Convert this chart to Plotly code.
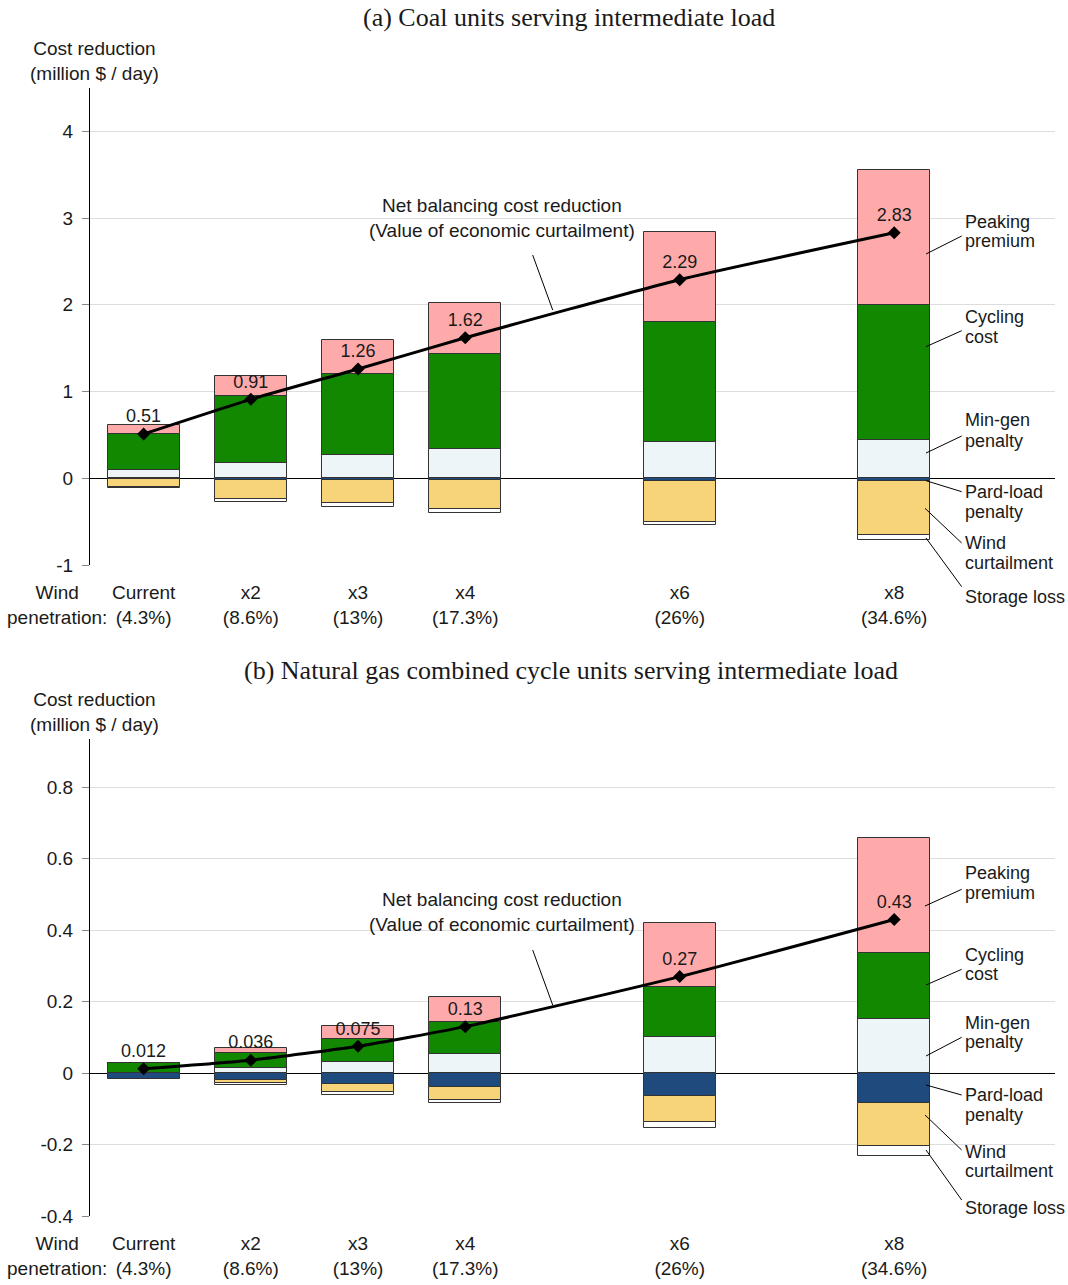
import plotly.graph_objects as go

W, H = 1068, 1285

# Scenario categories (wind penetration levels), placed on a numeric multiplier axis
multipliers = [1, 2, 3, 4, 6, 8]
scenario_labels = ["Current<br>(4.3%)", "x2<br>(8.6%)", "x3<br>(13%)",
                   "x4<br>(17.3%)", "x6<br>(26%)", "x8<br>(34.6%)"]

# (a) Coal units serving intermediate load, million $ / day
coal_peaking = [0.113, 0.23, 0.40, 0.58, 1.035, 1.556]
coal_cycling = [0.415, 0.765, 0.927, 1.095, 1.382, 1.548]
coal_mingen = [0.092, 0.18, 0.273, 0.342, 0.418, 0.446]
coal_partload = [-0.01, -0.02, -0.02, -0.02, -0.03, -0.03]
coal_wind = [-0.09, -0.214, -0.27, -0.33, -0.47, -0.627]
coal_storage = [-0.01, -0.036, -0.04, -0.045, -0.04, -0.058]
coal_net = [0.51, 0.91, 1.26, 1.62, 2.29, 2.83]

# (b) Natural gas combined cycle units serving intermediate load, million $ / day
gas_peaking = [0.0, 0.014, 0.0375, 0.07, 0.178, 0.324]
gas_cycling = [0.028, 0.042, 0.065, 0.088, 0.142, 0.185]
gas_mingen = [0.0, 0.013, 0.030, 0.054, 0.10, 0.150]
gas_partload = [-0.016, -0.019, -0.031, -0.038, -0.064, -0.085]
gas_wind = [0.0, -0.010, -0.021, -0.036, -0.072, -0.119]
gas_storage = [0.0, -0.004, -0.009, -0.011, -0.019, -0.029]
gas_net = [0.012, 0.036, 0.075, 0.13, 0.27, 0.43]

coal_ticks = [-1, 0, 1, 2, 3, 4]
gas_ticks = [-0.4, -0.2, 0, 0.2, 0.4, 0.6, 0.8]

component_names = ["Min-gen penalty", "Cycling cost", "Peaking premium",
                   "Pard-load penalty", "Wind curtailment", "Storage loss"]
component_colors = ["#EEF5F8", "#118800", "#FFAAAA", "#1F4A7E", "#F7D47A", "#FFFFFF"]

SANS = "Liberation Sans, Arial, sans-serif"
SERIF = "Liberation Serif, Times New Roman, serif"
TXT = "#1a1a1a"


def px(x, y):
    """Pixel position on the page -> paper coordinates."""
    return x / W, 1 - y / H


fig = go.Figure()

panels = [
    ("x", "y", [coal_mingen, coal_cycling, coal_peaking, coal_partload, coal_wind, coal_storage], coal_net),
    ("x2", "y2", [gas_mingen, gas_cycling, gas_peaking, gas_partload, gas_wind, gas_storage], gas_net),
]

for xa, ya, comps, net in panels:
    for name, vals, col in zip(component_names, comps, component_colors):
        fig.add_trace(go.Bar(
            x=multipliers, y=vals, name=name, xaxis=xa, yaxis=ya, width=0.67,
            marker=dict(color=col, line=dict(color="#333333", width=1)),
            showlegend=False, hoverinfo="name+y"))
    fig.add_trace(go.Scatter(
        x=multipliers, y=net, xaxis=xa, yaxis=ya, mode="lines+markers+text",
        line=dict(color="black", width=3, shape="spline", smoothing=0.5),
        marker=dict(symbol="diamond", size=10, color="black"),
        text=[str(v) for v in net], textposition="top center",
        textfont=dict(family=SANS, size=18, color=TXT),
        showlegend=False, name="Net balancing cost reduction"))

x_dom = [90 / W, 1055 / W]
axis_common = dict(
    showgrid=True, gridcolor="#DDDDDD", gridwidth=1,
    zeroline=True, zerolinecolor="black", zerolinewidth=1,
    showline=True, linecolor="black", linewidth=1,
    ticks="outside", ticklen=7, tickcolor="#888888", ticklabelstandoff=5,
    tickfont=dict(family=SANS, size=19, color=TXT), automargin=False,
)
xaxis_common = dict(
    range=[0.5, 9.5], tickvals=multipliers, ticktext=scenario_labels,
    showgrid=False, zeroline=False, showline=False, ticks="", ticklabelstandoff=14,
    tickfont=dict(family=SANS, size=19, color=TXT), automargin=False,
)


def tick_text(vals):
    return [("%g" % v).replace("\u2212", "-") for v in vals]


fig.update_layout(
    width=W, height=H, margin=dict(l=0, r=0, t=0, b=0, autoexpand=False),
    paper_bgcolor="white", plot_bgcolor="white",
    barmode="relative", bargap=0,
    xaxis=dict(domain=x_dom, anchor="y", **xaxis_common),
    xaxis2=dict(domain=x_dom, anchor="y2", **xaxis_common),
    yaxis=dict(domain=[1 - 565 / H, 1 - 88 / H], anchor="x", range=[-1, 4.5],
               tickvals=coal_ticks, ticktext=tick_text(coal_ticks), **axis_common),
    yaxis2=dict(domain=[1 - 1216 / H, 1 - 739 / H], anchor="x2", range=[-0.4, 0.935],
                tickvals=gas_ticks, ticktext=tick_text(gas_ticks), **axis_common),
)

annotations = []
shapes = []


def text(x, y, s, size=19, family=SANS, xanchor="center"):
    ax, ay = px(x, y)
    annotations.append(dict(x=ax, y=ay, xref="paper", yref="paper", text=s,
                            showarrow=False, xanchor=xanchor, yanchor="middle",
                            align="left" if xanchor == "left" else "center",
                            font=dict(family=family, size=size, color=TXT)))


def leader(x0, y0, x1, y1):
    a0, b0 = px(x0, y0)
    a1, b1 = px(x1, y1)
    shapes.append(dict(type="line", xref="paper", yref="paper", x0=a0, y0=b0, x1=a1, y1=b1,
                       line=dict(color="black", width=1)))


# Panel titles
text(569, 18, "(a) Coal units serving intermediate load", size=26, family=SERIF)
text(571, 670, "(b) Natural gas combined cycle units serving intermediate load", size=26, family=SERIF)

for dy in (0, 651):
    # Y-axis title and x-axis caption
    text(94, 61 + dy, "Cost reduction<br>(million $ / day)")
    text(57, 605 + dy, "Wind<br>penetration:")

# Net line callouts
text(502, 218, "Net balancing cost reduction<br>(Value of economic curtailment)")
text(502, 912, "Net balancing cost reduction<br>(Value of economic curtailment)")
leader(532.7, 255, 552.7, 310)
leader(532.7, 950, 552.7, 1005)

# Component callouts beside the x8 bar: text lines with their line heights, leader ends
labels_top = [
    (["Peaking", "premium"], [222, 241], (926, 254), (961.7, 236)),
    (["Cycling", "cost"], [317, 337], (926, 346.7), (961.7, 330.7)),
    (["Min-gen", "penalty"], [420, 441], (926, 453), (961.7, 436)),
    (["Pard-load", "penalty"], [492, 512], (926, 480.7), (961.7, 491.7)),
    (["Wind", "curtailment"], [543, 563], (925, 508.3), (961.7, 543)),
    (["Storage loss"], [597], (926, 538), (961.7, 586.7)),
]
labels_bottom = [
    (["Peaking", "premium"], [873, 893], (925, 906), (961.7, 889.3)),
    (["Cycling", "cost"], [955, 974], (926, 985), (961.7, 969.3)),
    (["Min-gen", "penalty"], [1023, 1042], (926, 1056), (961.7, 1037.3)),
    (["Pard-load", "penalty"], [1095, 1115], (926, 1085), (961.7, 1095)),
    (["Wind", "curtailment"], [1152, 1171], (925, 1115), (961.7, 1150)),
    (["Storage loss"], [1208], (926, 1150), (961.7, 1200)),
]
for lines, ys, p0, p1 in labels_top + labels_bottom:
    for s, ty in zip(lines, ys):
        text(963, ty, s, size=18, xanchor="left")
    leader(p0[0], p0[1], p1[0], p1[1])

fig.update_layout(annotations=annotations, shapes=shapes)

fig.write_html("out.html")
